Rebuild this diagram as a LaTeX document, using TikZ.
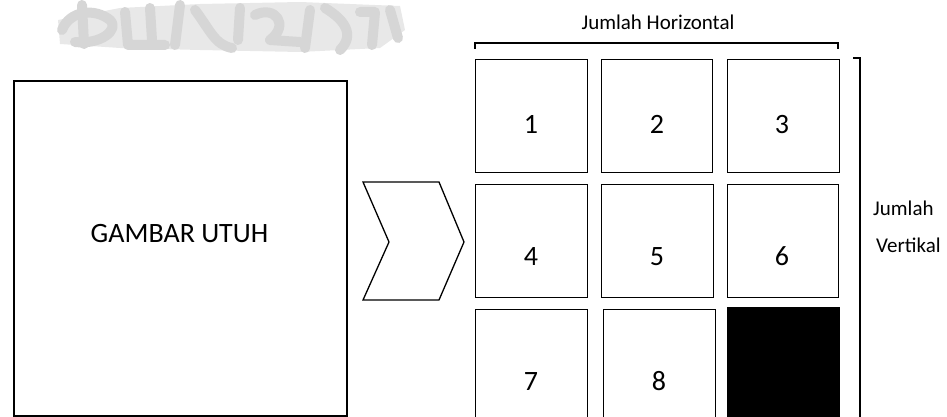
\documentclass[tikz,border=0pt]{standalone}
\usepackage{fontspec}
\setmainfont{Carlito}
\begin{document}
\begin{tikzpicture}[x=1pt,y=-1pt,
  cell/.style={draw=black, line width=1.1pt, minimum width=#1, minimum height=113pt, inner sep=0pt, anchor=north west},
  cell/.default=112pt,
  num/.style={font=\fontsize{28}{30}\selectfont, anchor=base, inner sep=0pt},
  lbl/.style={font=\fontsize{21}{24}\selectfont, anchor=base west, inner sep=0pt},
  wm/.style={gray!32, line width=10pt, line cap=round, line join=round}
]
\useasboundingbox (0,0) rectangle (947,417);
% faded watermark
\fill[gray!18] (58,20) -- (120,8) -- (200,4) -- (300,2) -- (400,6) -- (405,30) -- (380,48) -- (300,52) -- (200,50) -- (120,48) -- (60,44) -- cycle;
\draw[wm] (62,30) .. controls (70,10) and (95,8) .. (110,20) .. controls (120,30) and (100,45) .. (75,42);
\draw[wm] (82,5) -- (84,44);
\draw[wm] (125,12) -- (128,45) -- (165,45);
\draw[wm] (150,8) -- (152,40);
\draw[wm] (180,5) -- (175,45);
\draw[wm] (195,10) .. controls (210,30) and (215,45) .. (232,48);
\draw[wm] (240,8) -- (238,40);
\draw[wm] (255,15) .. controls (275,5) and (290,25) .. (270,40) -- (300,42);
\draw[wm] (310,10) -- (305,48);
\draw[wm] (325,8) .. controls (345,20) and (355,35) .. (340,50);
\draw[wm] (360,12) -- (375,12) -- (372,45);
\draw[wm] (390,10) -- (398,38);
% whole image
\node[draw=black, line width=1.6pt, minimum width=333pt, minimum height=335pt, inner sep=0pt, anchor=north west] (whole) at (13,80) {};
\node[font=\fontsize{28}{30}\selectfont, anchor=base, inner sep=0pt] (wt) at (179.5,242) {GAMBAR UTUH};
% chevron
\coordinate (ch1) at (363,182);
\coordinate (ch2) at (439,182);
\coordinate (ch3) at (464,242);
\coordinate (ch4) at (439,300);
\coordinate (ch5) at (363,300);
\coordinate (ch6) at (389,242);
\draw[line width=1.3pt, line join=miter] (ch1) -- (ch2) -- (ch3) -- (ch4) -- (ch5) -- (ch6) -- cycle;
% grid
\node[cell] (c1) at (475,59) {};
\node[cell=111pt] (c2) at (601,59) {};
\node[cell] (c3) at (727,59) {};
\node[cell] (c4) at (475,184) {};
\node[cell] (c5) at (601,184) {};
\node[cell=111pt] (c6) at (727,184) {};
\node[cell, minimum height=120pt] (c7) at (475,309) {};
\node[cell, minimum height=120pt] (c8) at (603,309) {};
\node[cell, fill=black, minimum height=122pt] (c9) at (727,307) {};
\node[num] (n1) at (531,133) {1};
\node[num] (n2) at (657,133) {2};
\node[num] (n3) at (782,133) {3};
\node[num] (n4) at (531,265) {4};
\node[num] (n5) at (657,265) {5};
\node[num] (n6) at (782,265) {6};
\node[num] (n7) at (531,390) {7};
\node[num] (n8) at (659,390) {8};
% horizontal bracket
\coordinate (hb1) at (475,49);
\coordinate (hb2) at (475,43);
\coordinate (hb3) at (838,43);
\coordinate (hb4) at (838,49);
\draw[line width=1.3pt] (hb1) -- (hb2) -- (hb3) -- (hb4);
\node[font=\fontsize{21}{24}\selectfont, anchor=base, inner sep=0pt] (jh) at (658,30) {Jumlah Horizontal};
% vertical bracket
\coordinate (vb1) at (853,58);
\coordinate (vb2) at (860,58);
\coordinate (vb3) at (860,425);
\draw[line width=1.3pt] (vb1) -- (vb2) -- (vb3);
\node[lbl] (jv1) at (873,215) {Jumlah};
\node[lbl] (jv2) at (876,252) {Vertikal};
\end{tikzpicture}
\end{document}
